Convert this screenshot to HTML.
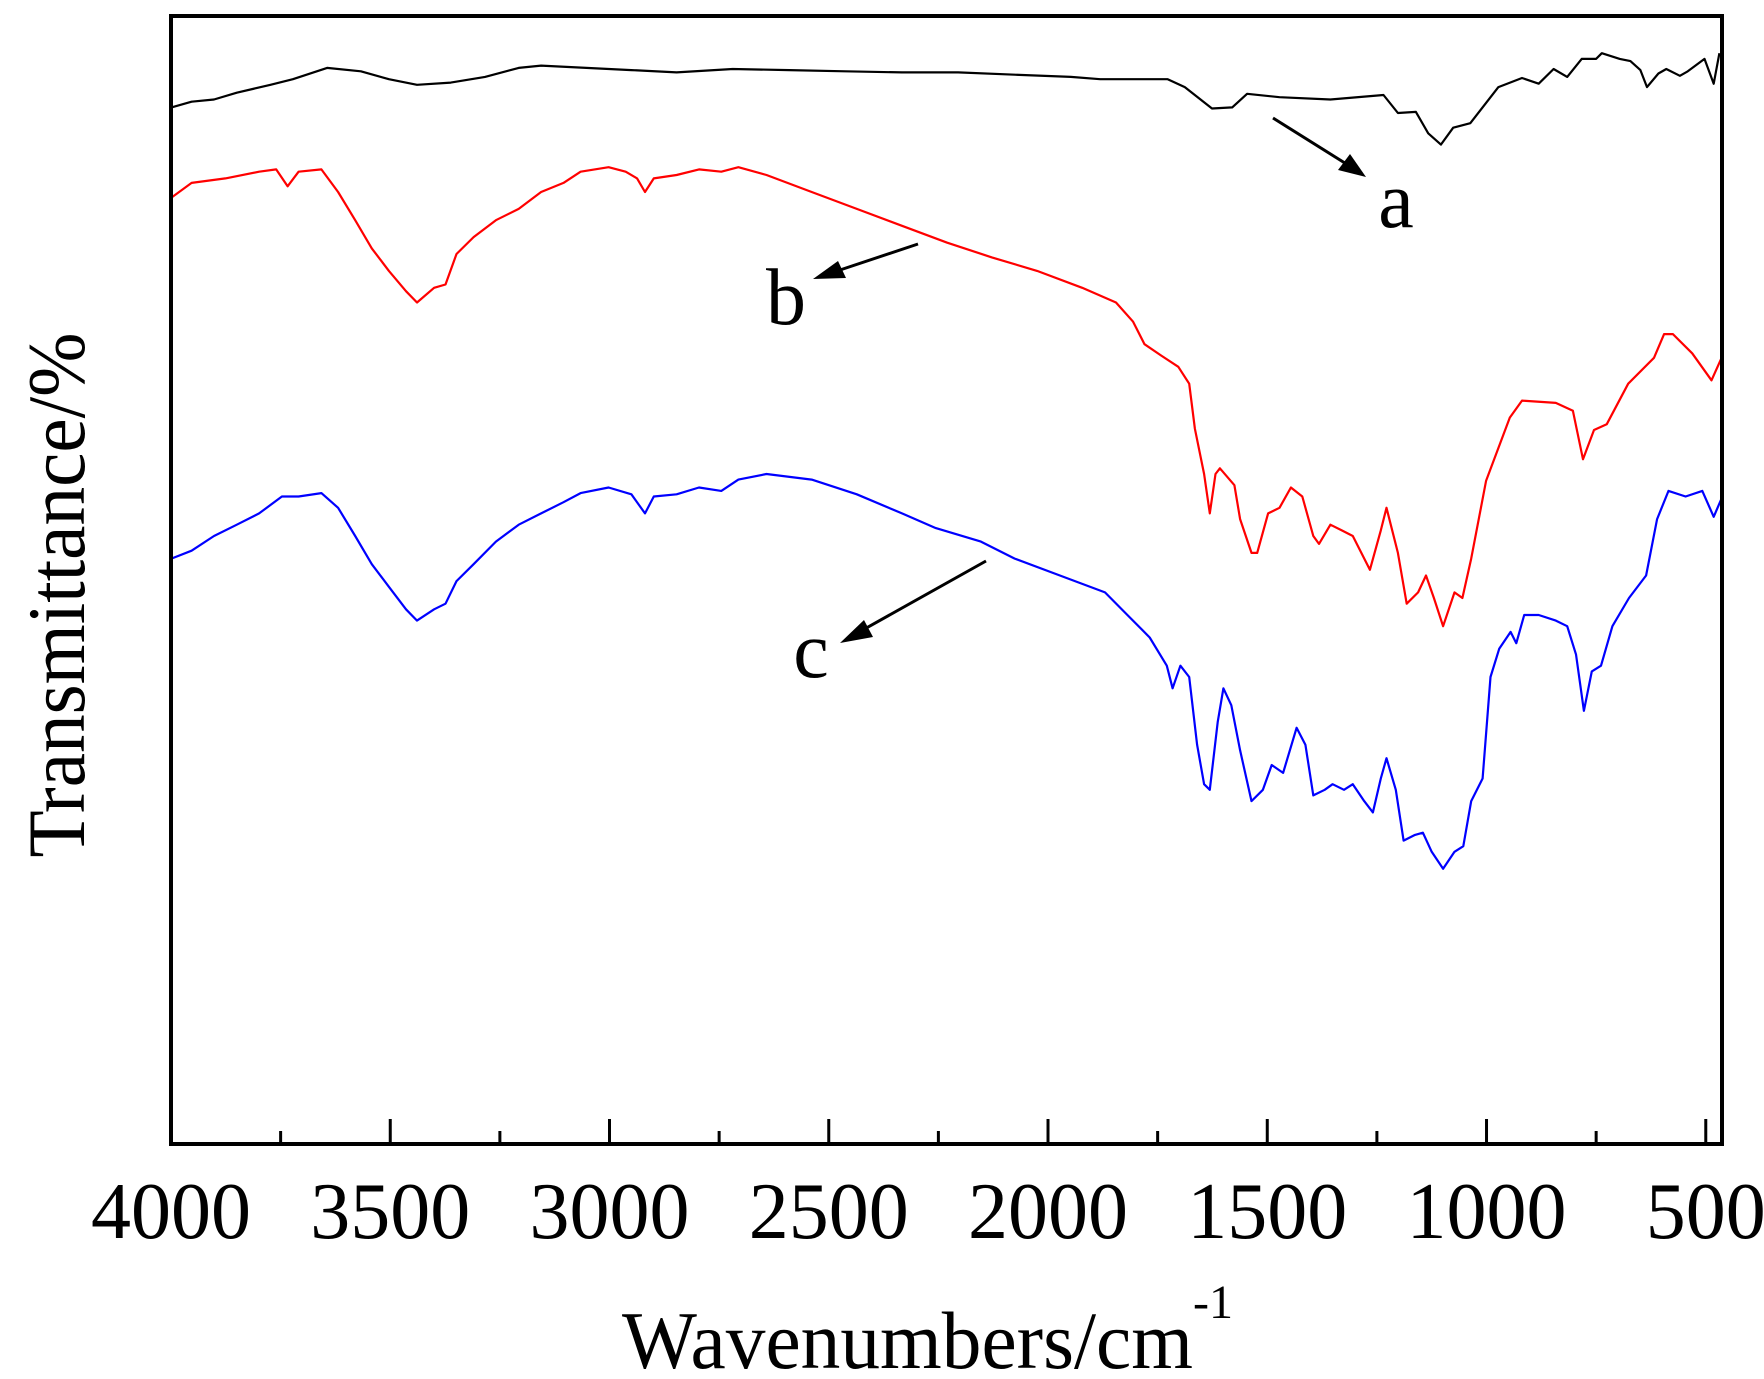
<!DOCTYPE html>
<html><head><meta charset="utf-8"><style>
html,body{margin:0;padding:0;background:#fff;}
svg{display:block;font-family:"Liberation Serif",serif;}
</style></head><body>
<svg id="chart" width="1764" height="1379" viewBox="0 0 1764 1379" xmlns="http://www.w3.org/2000/svg">
<g id="curves"></g>
<g id="axes"></g>
<g id="annot">
<line x1="1273" y1="118" x2="1356" y2="170" stroke="#000" stroke-width="3"/>
<polygon points="1366,177 1338,170 1350,154" fill="#000"/>
<text x="1396" y="227" font-size="80" text-anchor="middle">a</text>
<line x1="918" y1="244" x2="825" y2="275" stroke="#000" stroke-width="3"/>
<polygon points="813,279 838,261 846,278" fill="#000"/>
<text x="786" y="324" font-size="80" text-anchor="middle">b</text>
<line x1="986" y1="561" x2="852" y2="636" stroke="#000" stroke-width="3"/>
<polygon points="840,643 864,620 873,637" fill="#000"/>
<text x="811" y="677" font-size="80" text-anchor="middle">c</text>
</g>
<text x="622" y="1368" font-size="82" textLength="571" lengthAdjust="spacingAndGlyphs">Wavenumbers/cm</text>
<text x="1193" y="1318" font-size="48">-1</text>
<text transform="translate(84,595) rotate(-90)" font-size="82" text-anchor="middle" textLength="525" lengthAdjust="spacingAndGlyphs">Transmittance/%</text>
</svg>
<script>
const aWn=[3999,3953,3902,3850,3773,3722,3644,3567,3503,3439,3362,3284,3207,3156,3053,2950,2847,2719,2590,2462,2333,2205,2076,1948,1881,1727,1688,1626,1580,1546,1472,1356,1235,1202,1161,1133,1104,1076,1037,973,919,881,847,816,783,750,737,696,672,649,634,608,590,559,541,503,482,469];
const aT=[91.9,92.4,92.6,93.2,93.9,94.4,95.4,95.1,94.4,93.9,94.1,94.6,95.4,95.6,95.4,95.2,95.0,95.3,95.2,95.1,95.0,95.0,94.8,94.6,94.4,94.4,93.7,91.8,91.9,93.1,92.8,92.6,93.0,91.4,91.5,89.6,88.6,90.1,90.5,93.7,94.5,94.0,95.3,94.6,96.2,96.2,96.7,96.2,96.0,95.2,93.7,94.9,95.3,94.7,95.1,96.2,94.0,96.7];
const bWn=[3999,3953,3876,3799,3760,3734,3709,3657,3619,3580,3542,3503,3464,3439,3400,3374,3349,3310,3259,3207,3156,3105,3066,3002,2963,2937,2919,2899,2847,2796,2745,2706,2642,2539,2436,2333,2230,2128,2025,1922,1845,1806,1780,1742,1703,1678,1665,1644,1631,1618,1608,1575,1562,1536,1523,1498,1472,1446,1420,1395,1382,1356,1330,1305,1266,1241,1228,1202,1182,1156,1138,1120,1099,1073,1055,1035,1001,947,919,842,803,780,755,726,677,618,595,575,531,487,464];
const bT=[83.9,85.2,85.6,86.2,86.4,84.9,86.2,86.4,84.4,81.9,79.4,77.4,75.6,74.6,75.9,76.2,78.9,80.4,81.9,82.9,84.4,85.2,86.2,86.6,86.2,85.6,84.4,85.6,85.9,86.4,86.2,86.6,85.9,84.4,82.9,81.4,79.9,78.6,77.4,75.9,74.6,72.9,70.9,69.9,68.9,67.4,63.4,59.4,55.9,59.4,59.9,58.4,55.4,52.4,52.4,55.9,56.4,58.2,57.4,53.9,53.2,54.9,54.4,53.9,50.9,54.4,56.4,52.4,47.9,48.9,50.4,48.4,45.9,48.9,48.4,51.9,58.8,64.4,65.9,65.7,65.0,60.7,63.3,63.8,67.4,69.7,71.8,71.8,70.1,67.7,69.7];
const cWn=[3999,3953,3902,3850,3799,3747,3709,3657,3619,3580,3542,3503,3464,3439,3400,3374,3349,3310,3259,3207,3156,3105,3066,3002,2950,2919,2899,2847,2796,2745,2706,2642,2539,2436,2333,2256,2153,2076,1973,1870,1819,1768,1729,1716,1698,1678,1660,1644,1631,1613,1600,1582,1562,1536,1510,1490,1464,1433,1413,1395,1369,1351,1325,1305,1279,1259,1241,1228,1207,1189,1163,1145,1125,1099,1073,1053,1035,1009,991,971,945,932,914,881,842,816,796,778,760,739,713,675,636,611,585,546,508,482,462];
const cT=[51.9,52.6,53.9,54.9,55.9,57.4,57.4,57.7,56.4,53.9,51.4,49.4,47.4,46.4,47.4,47.9,49.9,51.4,53.4,54.9,55.9,56.9,57.7,58.2,57.6,55.9,57.4,57.6,58.2,57.9,58.9,59.4,58.9,57.6,55.9,54.6,53.4,51.9,50.4,48.9,46.9,44.9,42.4,40.4,42.4,41.4,35.4,31.9,31.4,37.4,40.4,38.9,34.9,30.4,31.4,33.6,32.9,36.9,35.4,30.9,31.4,31.9,31.4,31.9,30.4,29.4,32.4,34.2,31.4,26.9,27.4,27.6,25.9,24.4,25.9,26.4,30.4,32.4,41.4,43.9,45.4,44.4,46.9,46.9,46.4,45.9,43.4,38.4,41.9,42.4,45.9,48.4,50.4,55.4,57.9,57.4,57.9,55.6,57.4];
const xTicks=[4000,3500,3000,2500,2000,1500,1000,500];
const xTickLabels=["4000","3500","3000","2500","2000","1500","1000","500"];
const xMinor=[3750,3250,2750,2250,1750,1250,750];

const L=171,R=1722,T=16,B=1144,WMAX=4000,WMIN=463;
const xs=w=>L+(WMAX-w)/(WMAX-WMIN)*(R-L);
const ys=t=>B-t/100*(B-T);
const NS="http://www.w3.org/2000/svg";
function mk(tag,attrs,parent){const e=document.createElementNS(NS,tag);for(const k in attrs)e.setAttribute(k,attrs[k]);parent.appendChild(e);return e;}
const curves=document.getElementById('curves');
function drawSeries(wn,tv,color,name){
  let d='';
  for(let i=0;i<wn.length;i++)d+=(i?'L':'M')+xs(wn[i]).toFixed(1)+','+ys(tv[i]).toFixed(1);
  const p=mk('path',{d:d,fill:'none',stroke:color,'stroke-width':2.2,'stroke-linejoin':'round'},curves);
  
  
}
drawSeries(aWn,aT,'#000','series-a');
drawSeries(bWn,bT,'#ff0000','series-b');
drawSeries(cWn,cT,'#0000ff','series-c');

const axes=document.getElementById('axes');
const frame=mk('rect',{x:L,y:T,width:R-L,height:B-T,fill:'none',stroke:'#000','stroke-width':4},axes);


xTicks.forEach((w,i)=>{
  const x=xs(w);
  const t=mk('line',{x1:x,y1:B,x2:x,y2:B-25,stroke:'#000','stroke-width':3},axes);
  
  
  const lb=mk('text',{x:x,y:1238,'font-size':80,'text-anchor':'middle'},axes);
  lb.textContent=xTickLabels[i];
  
  
});
xMinor.forEach(w=>{
  const x=xs(w);
  const t=mk('line',{x1:x,y1:B,x2:x,y2:B-13,stroke:'#000','stroke-width':3},axes);
  
  
});
</script>
</body></html>
